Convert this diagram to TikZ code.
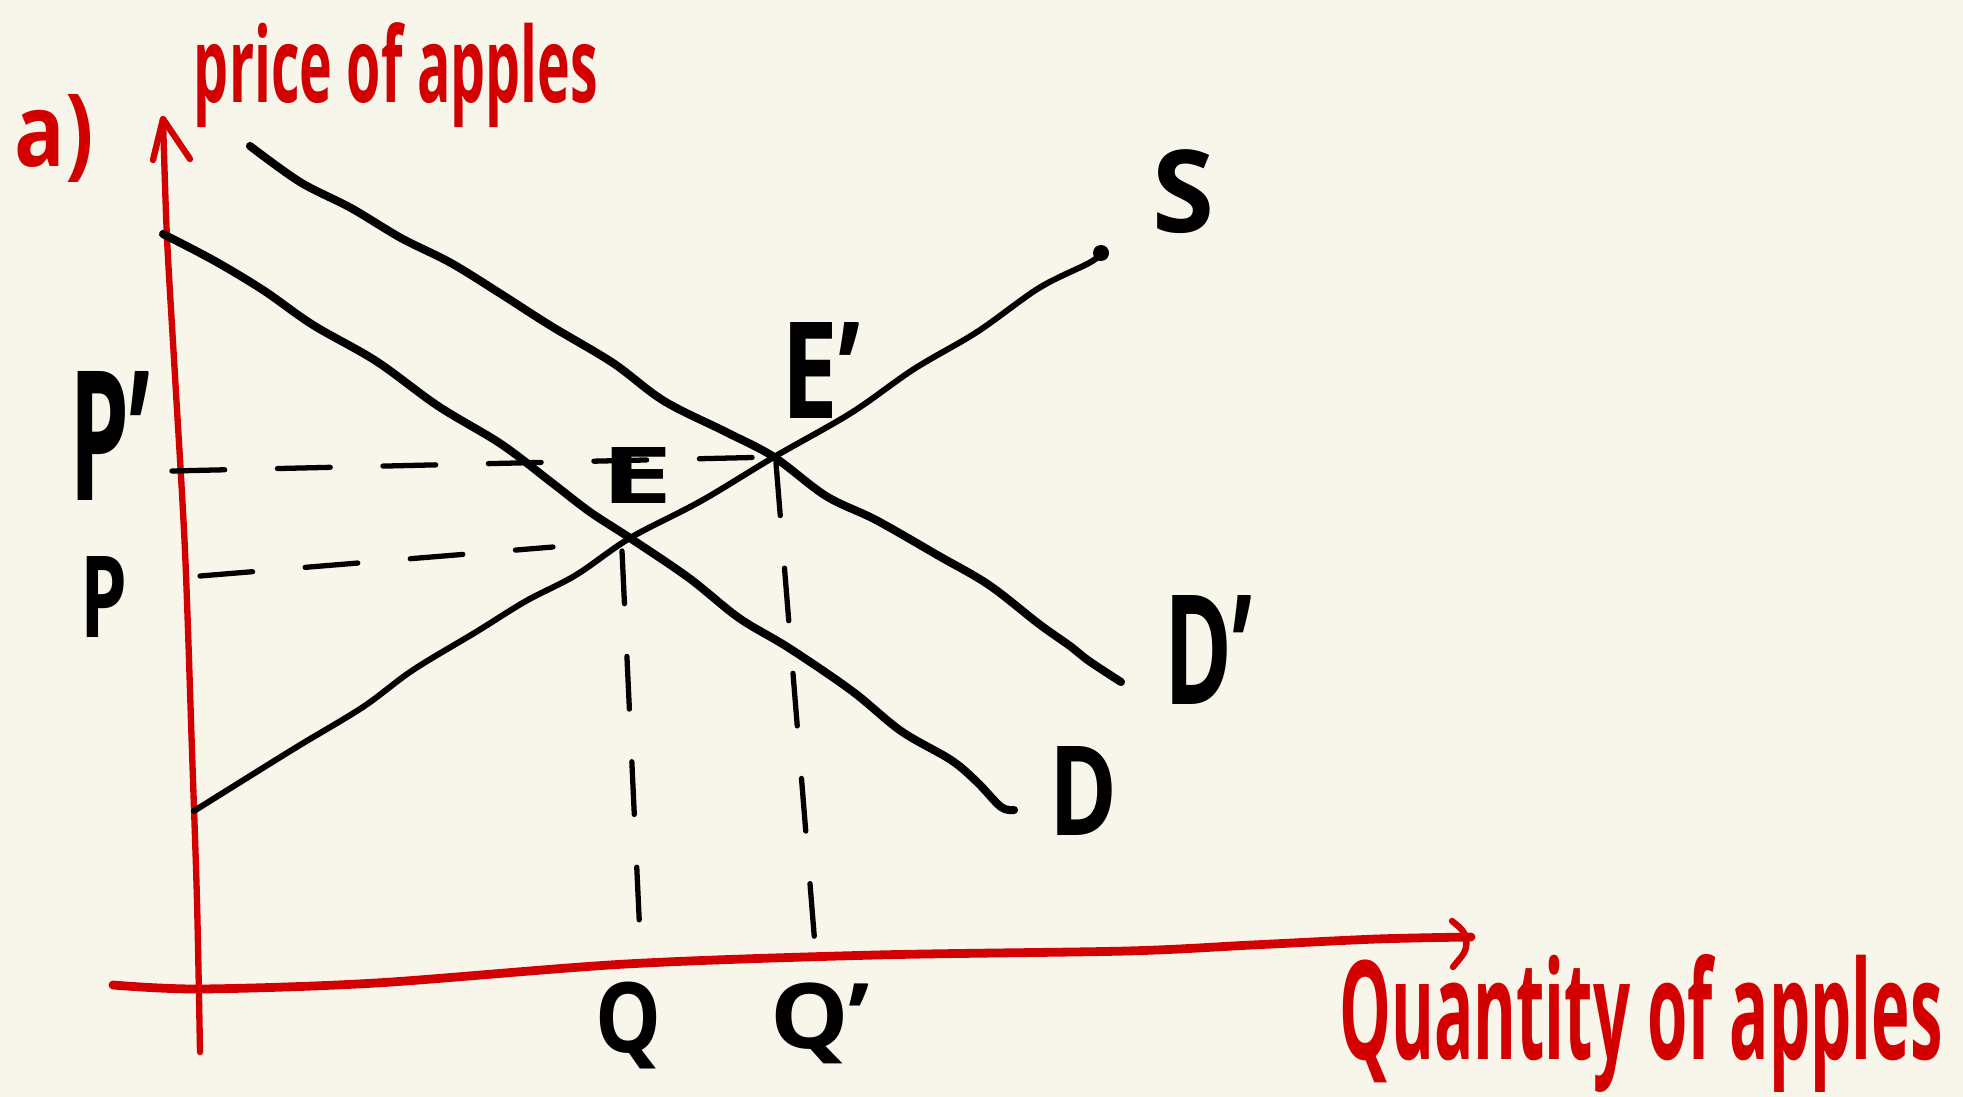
\documentclass[tikz,border=0pt]{standalone}
\usepackage{fontspec}
\setmainfont{Open Sans}
\usepackage{graphicx}
\definecolor{bg}{HTML}{F8F6EA}
\definecolor{pen}{HTML}{D20000}
\newlength\pxu
\setlength\pxu{0.01cm}
\newcommand\hw[3]{\resizebox*{#1\pxu}{#2\pxu}{\bfseries #3}}
\begin{document}
\begin{tikzpicture}[x=0.01cm,y=-0.01cm,
  axis/.style={pen, line width=1.8pt, line cap=round, line join=round},
  curve/.style={black, line width=2.3pt, line cap=round, line join=round},
  supply/.style={black, line width=1.7pt, line cap=round, line join=round},
  guide/.style={black, line width=1.5pt, line cap=round, dash pattern=on 15pt off 15pt},
  lab/.style={inner sep=0pt, text=black},
  rlab/.style={inner sep=0pt, text=pen}]
\fill[bg] (0,0) rectangle (1963,1097);
\useasboundingbox (0,0) rectangle (1963,1097);

% axes
\draw[axis] plot[smooth] coordinates {(163,119) (167,238) (175,376) (185,551) (192,751) (197,901) (200,1052)};
\draw[axis] (153,160) -- (163,119) -- (190,159);
\draw[axis, line width=2.5pt] plot[smooth] coordinates {(113,985) (200,989) (376,983) (626,964) (876,955) (1127,951) (1252,945) (1377,939) (1471,937)};
\draw[axis, rounded corners=6pt] (1452,921) -- (1475,940) -- (1453,967);

% key points
\coordinate (E) at (630,538);
\coordinate (Ep) at (774,457);
\coordinate (Pp) at (172,471);
\coordinate (Pt) at (200,576);
\coordinate (Pend) at (553,547);
\coordinate (Qtop) at (622,551);
\coordinate (Qbot) at (641,958);
\coordinate (Qptop) at (776,463);
\coordinate (Qpbot) at (816,958);

% demand D
\draw[curve] plot[smooth, tension=0.55] coordinates {(163,234) (213,260) (263,290) (313,325) (376,361) (438,406) (501,444) (551,482) (590,512) (630,538) (689,578) (739,618) (789,648) (852,691) (901,731) (951,760) (977,782) (1001,807) (1014,810)};
% demand D'
\draw[curve] plot[smooth, tension=0.55] coordinates {(250,146) (300,182) (351,208) (401,238) (451,263) (501,294) (551,326) (613,363) (664,401) (726,432) (774,457) (826,496) (876,520) (939,556) (989,585) (1039,624) (1070,646) (1089,661) (1121,682)};
% supply S
\draw[supply] plot[smooth, tension=0.55] coordinates {(194,811) (250,776) (300,745) (363,707) (413,670) (476,632) (526,601) (576,575) (630,538) (701,501) (774,457) (851,413) (914,369) (977,332) (1039,288) (1089,263) (1104,252)};
\fill (1101,253) circle (8);

% guides
\draw[guide] (Pp) -- (Ep);
\draw[guide] (Pt) -- (Pend);
\draw[guide] (Qtop) -- (Qbot);
\draw[guide] (Qptop) -- (Qpbot);

% labels
\node[rlab] (a) at (54,138) {\hw{79}{88}{a)}};
\node[rlab] (ylab) at (396,75) {\hw{404}{105}{price of apples}};
\node[rlab] (xlab) at (1641,1023) {\hw{603}{138}{Quantity of apples}};
\node[lab] (S) at (1183,192) {\hw{62}{84}{S}};
\node[lab] (Eplab) at (821,371) {\hw{79}{96}{E'}};
\node[lab] (Elab) at (637,475) {\hw{73}{56}{E}};
\node[lab] (Dp) at (1208,650) {\hw{88}{109}{D'}};
\node[lab] (D) at (1083,791) {\hw{68}{89}{D}};
\node[lab] (Pplab) at (110,436) {\hw{81}{129}{P'}};
\node[lab] (Plab) at (104,597) {\hw{47}{81}{P}};
\node[lab] (Q) at (628,1026) {\hw{66}{87}{Q}};
\node[lab] (Qp) at (820,1023) {\hw{100}{81}{Q'}};
\end{tikzpicture}
\end{document}
